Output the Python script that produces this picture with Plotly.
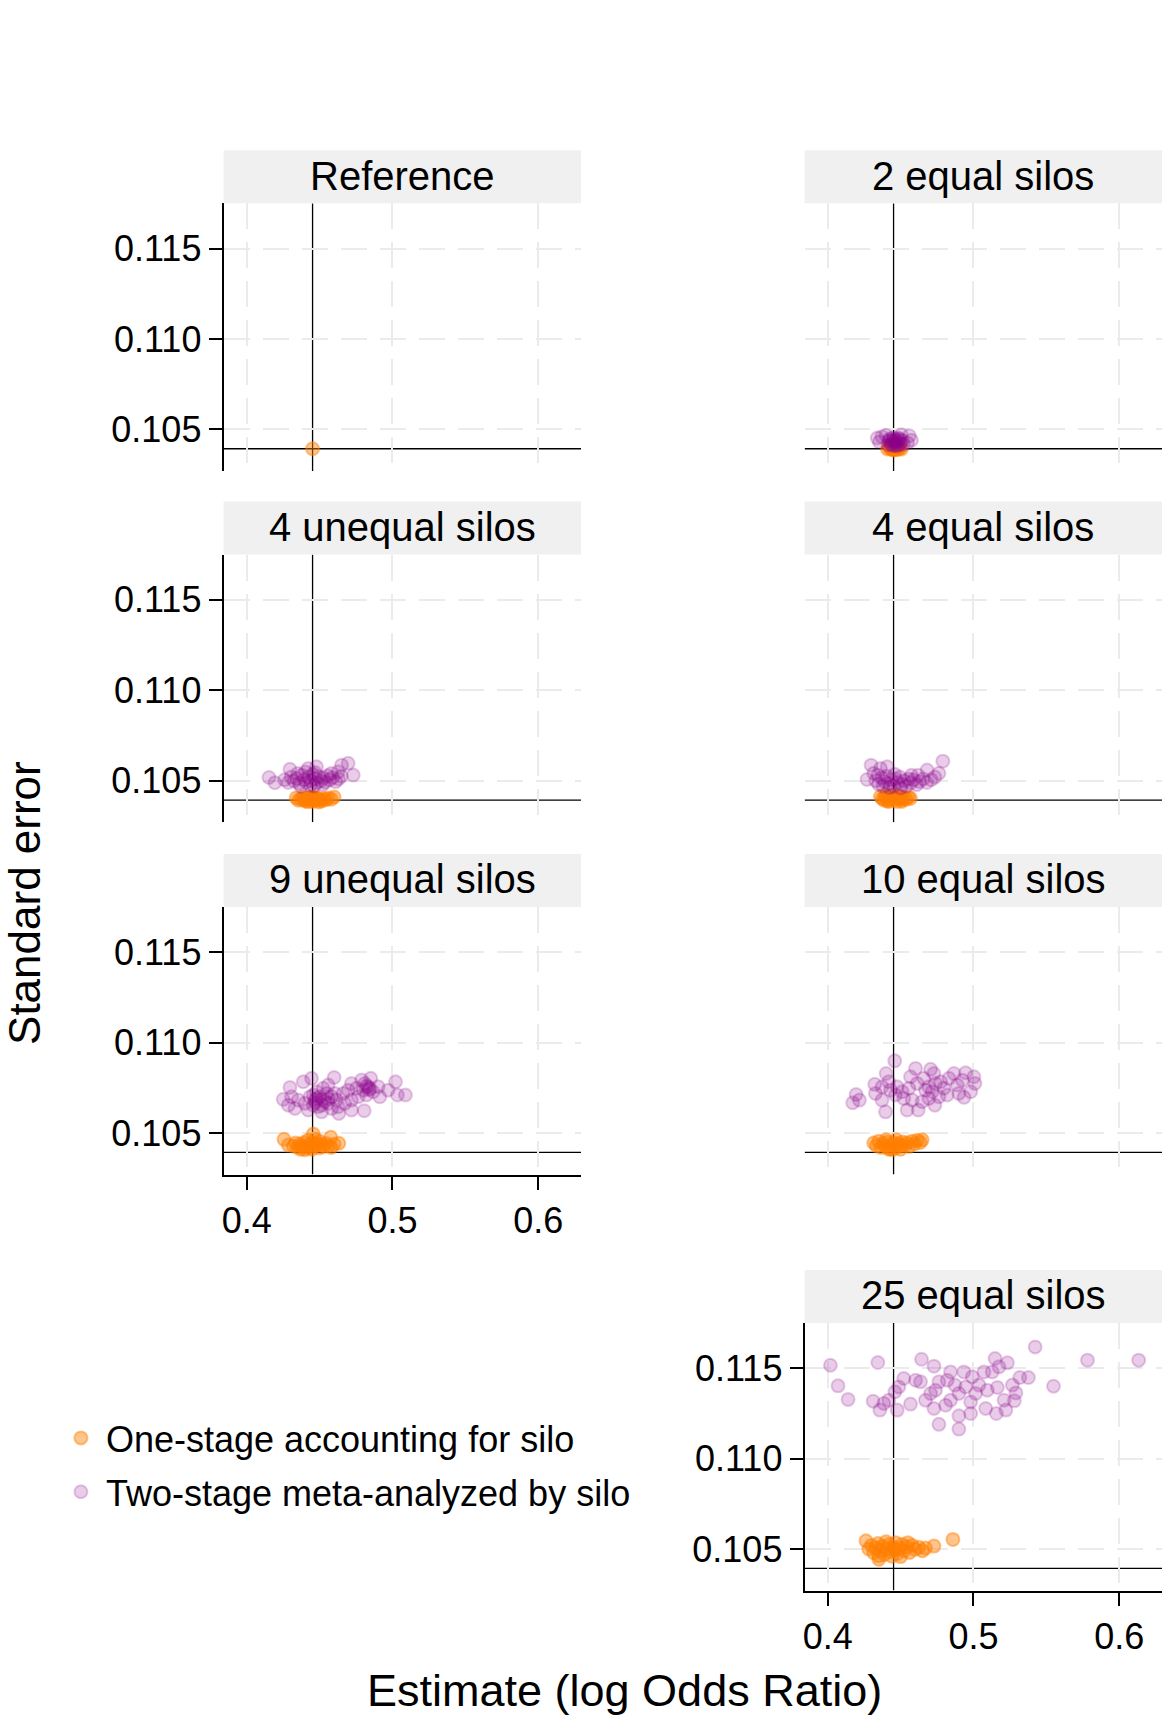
import plotly.graph_objects as go

# reference fit (single model on pooled data)
ref_est = [0.4452]
ref_se = [0.10393]

# 2 equal silos
one_est_2eq = [0.4410, 0.4425, 0.4438, 0.4445, 0.4452, 0.4460, 0.4470, 0.4482, 0.4495, 0.4505,
               0.4432, 0.4448, 0.4465, 0.4478, 0.4456]
one_se_2eq = [0.10392, 0.10398, 0.10390, 0.10402, 0.10395, 0.10388, 0.10400, 0.10393, 0.10397, 0.10391,
              0.10405, 0.10386, 0.10408, 0.10389, 0.10401]
two_est_2eq = [0.4340, 0.4355, 0.4372, 0.4560, 0.4575, 0.4548, 0.4400, 0.4505,
               0.4420, 0.4435, 0.4445, 0.4455, 0.4465, 0.4475, 0.4488, 0.4500, 0.4512, 0.4430, 0.4450,
               0.4470, 0.4482, 0.4495, 0.4458, 0.4440, 0.4478, 0.4520, 0.4415, 0.4462, 0.4490, 0.4425]
two_se_2eq = [0.10452, 0.10430, 0.10460, 0.10465, 0.10440, 0.10425, 0.10468, 0.10470,
              0.10435, 0.10420, 0.10440, 0.10428, 0.10445, 0.10432, 0.10440, 0.10425, 0.10438, 0.10450, 0.10455,
              0.10418, 0.10452, 0.10448, 0.10410, 0.10412, 0.10408, 0.10418, 0.10415, 0.10438, 0.10415, 0.10442]

# 4 unequal silos
one_est_4un = [0.4340, 0.4355, 0.4372, 0.4388, 0.4400, 0.4412, 0.4425, 0.4438, 0.4450, 0.4462, 0.4475, 0.4488,
               0.4500, 0.4515, 0.4530, 0.4545, 0.4560, 0.4580, 0.4600, 0.4445, 0.4420, 0.4470, 0.4495, 0.4395]
one_se_4un = [0.10405, 0.10392, 0.10398, 0.10410, 0.10388, 0.10400, 0.10393, 0.10405, 0.10385, 0.10398, 0.10390, 0.10402,
              0.10395, 0.10388, 0.10400, 0.10395, 0.10405, 0.10398, 0.10410, 0.10412, 0.10383, 0.10408, 0.10382, 0.10395]
two_est_4un = [0.4153, 0.4194, 0.4297, 0.4651, 0.4696, 0.4731, 0.4628, 0.4479, 0.4422,
               0.4260, 0.4285, 0.4305, 0.4325, 0.4345, 0.4360, 0.4380, 0.4395, 0.4410, 0.4425, 0.4440, 0.4455,
               0.4468, 0.4480, 0.4495, 0.4510, 0.4525, 0.4540, 0.4555, 0.4570, 0.4590, 0.4610, 0.4630, 0.4650,
               0.4435, 0.4462, 0.4402, 0.4470, 0.4520, 0.4350, 0.4580, 0.4372]
two_se_4un = [0.10518, 0.10489, 0.10563, 0.10586, 0.10596, 0.10531, 0.10549, 0.10577, 0.10568,
              0.10505, 0.10490, 0.10520, 0.10498, 0.10512, 0.10485, 0.10530, 0.10505, 0.10490, 0.10520, 0.10500, 0.10535,
              0.10510, 0.10488, 0.10522, 0.10500, 0.10515, 0.10492, 0.10528, 0.10505, 0.10518, 0.10495, 0.10510, 0.10525,
              0.10475, 0.10470, 0.10548, 0.10545, 0.10478, 0.10540, 0.10540, 0.10468]

# 4 equal silos
one_est_4eq = [0.4362, 0.4375, 0.4388, 0.4400, 0.4412, 0.4425, 0.4438, 0.4450, 0.4462, 0.4475, 0.4488,
               0.4500, 0.4512, 0.4525, 0.4540, 0.4555, 0.4568, 0.4445, 0.4395, 0.4480, 0.4418, 0.4508]
one_se_4eq = [0.10412, 0.10400, 0.10392, 0.10408, 0.10388, 0.10398, 0.10415, 0.10392, 0.10405, 0.10385, 0.10400,
              0.10410, 0.10395, 0.10405, 0.10398, 0.10410, 0.10402, 0.10420, 0.10418, 0.10415, 0.10385, 0.10385]
two_est_4eq = [0.4298, 0.4270, 0.4408, 0.4790, 0.4763, 0.4682, 0.4362, 0.4316,
               0.4330, 0.4350, 0.4370, 0.4390, 0.4405, 0.4420, 0.4435, 0.4450, 0.4465, 0.4480, 0.4495, 0.4510,
               0.4525, 0.4540, 0.4555, 0.4570, 0.4590, 0.4610, 0.4630, 0.4655, 0.4680, 0.4710, 0.4735,
               0.4460, 0.4425, 0.4500, 0.4380, 0.4575, 0.4345, 0.4620]
two_se_4eq = [0.10586, 0.10507, 0.10577, 0.10608, 0.10541, 0.10559, 0.10568, 0.10541,
              0.10500, 0.10480, 0.10515, 0.10495, 0.10525, 0.10485, 0.10505, 0.10470, 0.10510, 0.10490, 0.10520, 0.10480,
              0.10500, 0.10470, 0.10510, 0.10488, 0.10505, 0.10478, 0.10495, 0.10510, 0.10490, 0.10505, 0.10520,
              0.10535, 0.10462, 0.10460, 0.10470, 0.10530, 0.10530, 0.10530]

# 9 unequal silos
one_est_9un = [0.4256, 0.4457, 0.4577, 0.4632, 0.4286, 0.4320, 0.4335, 0.4350, 0.4365, 0.4380, 0.4395, 0.4410,
               0.4425, 0.4440, 0.4455, 0.4470, 0.4485, 0.4500, 0.4515, 0.4530, 0.4545, 0.4560, 0.4580, 0.4600,
               0.4448, 0.4400, 0.4500, 0.4470, 0.4420, 0.4370]
one_se_9un = [0.10465, 0.10494, 0.10476, 0.10443, 0.10433, 0.10428, 0.10445, 0.10420, 0.10438, 0.10425, 0.10448, 0.10418,
              0.10435, 0.10422, 0.10445, 0.10428, 0.10440, 0.10418, 0.10435, 0.10425, 0.10442, 0.10430, 0.10420, 0.10438,
              0.10410, 0.10408, 0.10455, 0.10465, 0.10460, 0.10410]
two_est_9un = [0.4251, 0.4297, 0.4388, 0.4445, 0.4600, 0.4331, 0.4422, 0.4514, 0.4632, 0.4719, 0.4806, 0.4788,
               0.4851, 0.5021, 0.5089, 0.5034, 0.4970, 0.4913, 0.4719, 0.4559,
               0.4468, 0.4502, 0.4536, 0.4582, 0.4616, 0.4457, 0.4491, 0.4548, 0.4662, 0.4696, 0.4753, 0.4799,
               0.4833, 0.4868, 0.4822, 0.4765, 0.4719, 0.4673, 0.4628, 0.4582, 0.4434, 0.4399, 0.4354, 0.4308,
               0.4286, 0.4902, 0.4525, 0.4479, 0.4514, 0.4559, 0.4605, 0.4457, 0.4811, 0.4845,
               0.4480, 0.4520, 0.4560, 0.4470, 0.4840, 0.4820]
two_se_9un = [0.10686, 0.10752, 0.10783, 0.10802, 0.10807, 0.10636, 0.10627, 0.10617, 0.10608, 0.10627, 0.10623, 0.10793,
              0.10802, 0.10783, 0.10710, 0.10710, 0.10737, 0.10700, 0.10774, 0.10765,
              0.10682, 0.10700, 0.10673, 0.10700, 0.10682, 0.10654, 0.10645, 0.10719, 0.10719, 0.10737, 0.10747, 0.10737,
              0.10756, 0.10728, 0.10710, 0.10700, 0.10682, 0.10664, 0.10645, 0.10636, 0.10700, 0.10664, 0.10682, 0.10700,
              0.10654, 0.10756, 0.10747, 0.10728, 0.10654, 0.10664, 0.10719, 0.10710, 0.10774, 0.10747,
              0.10690, 0.10688, 0.10690, 0.10668, 0.10740, 0.10760]

# 10 equal silos
one_est_10eq = [0.4316, 0.4335, 0.4350, 0.4365, 0.4380, 0.4395, 0.4410, 0.4425, 0.4440, 0.4455, 0.4470, 0.4485,
                0.4500, 0.4515, 0.4530, 0.4545, 0.4560, 0.4578, 0.4595, 0.4615, 0.4635, 0.4648,
                0.4445, 0.4420, 0.4470, 0.4400, 0.4500]
one_se_10eq = [0.10445, 0.10430, 0.10455, 0.10420, 0.10440, 0.10425, 0.10450, 0.10415, 0.10435, 0.10445, 0.10420, 0.10440,
               0.10428, 0.10450, 0.10432, 0.10445, 0.10425, 0.10455, 0.10440, 0.10460, 0.10448, 0.10462,
               0.10408, 0.10410, 0.10462, 0.10462, 0.10410]
two_est_10eq = [0.4460, 0.4401, 0.4323, 0.4195, 0.4172, 0.4218, 0.4397, 0.4545, 0.4621, 0.4735, 0.4603, 0.4706,
                0.4946, 0.5003, 0.5010, 0.4981, 0.4935, 0.4866, 0.4328, 0.4373,
                0.4431, 0.4476, 0.4511, 0.4557, 0.4614, 0.4660, 0.4694, 0.4717, 0.4740, 0.4775, 0.4797, 0.4832,
                0.4820, 0.4763, 0.4694, 0.4648, 0.4580, 0.4522, 0.4465, 0.4419, 0.4568, 0.4671, 0.4889, 0.4924,
                0.4900, 0.4373, 0.4729]
two_se_10eq = [0.10899, 0.10829, 0.10769, 0.10713, 0.10667, 0.10682, 0.10617, 0.10627, 0.10627, 0.10654, 0.10857, 0.10852,
               0.10833, 0.10811, 0.10774, 0.10728, 0.10697, 0.10829, 0.10719, 0.10682,
               0.10737, 0.10755, 0.10728, 0.10747, 0.10774, 0.10802, 0.10755, 0.10728, 0.10774, 0.10783, 0.10747, 0.10802,
               0.10710, 0.10700, 0.10691, 0.10673, 0.10682, 0.10691, 0.10710, 0.10783, 0.10811, 0.10737, 0.10765, 0.10792,
               0.10719, 0.10755, 0.10829]

# 25 equal silos
one_est_25eq = [0.4859, 0.4729, 0.4263, 0.4351,
                0.4282, 0.4300, 0.4315, 0.4330, 0.4345, 0.4360, 0.4375, 0.4390, 0.4405, 0.4420, 0.4435, 0.4450,
                0.4465, 0.4480, 0.4495, 0.4510, 0.4525, 0.4540, 0.4560, 0.4580, 0.4600, 0.4625, 0.4650, 0.4671,
                0.4440, 0.4400, 0.4500, 0.4350, 0.4550, 0.4460]
one_se_25eq = [0.10553, 0.10516, 0.10545, 0.10443,
               0.10500, 0.10520, 0.10480, 0.10505, 0.10530, 0.10490, 0.10515, 0.10470, 0.10500, 0.10525, 0.10485, 0.10510,
               0.10535, 0.10475, 0.10505, 0.10525, 0.10490, 0.10512, 0.10480, 0.10520, 0.10498, 0.10510, 0.10490, 0.10505,
               0.10460, 0.10540, 0.10458, 0.10462, 0.10535, 0.10495]
two_est_25eq = [0.4019, 0.4071, 0.4140, 0.4344, 0.4312, 0.4358, 0.4385, 0.4461, 0.4477, 0.4568, 0.4522, 0.4644,
                0.4729, 0.4763, 0.4900, 0.4900, 0.4981, 0.5148, 0.5233, 0.5423, 0.5318, 0.5377, 0.5549, 0.5782,
                0.6133, 0.5291, 0.5280, 0.5222, 0.5157, 0.5084, 0.5015, 0.5072, 0.4934, 0.4843, 0.4820, 0.4740,
                0.4809, 0.4729, 0.4671, 0.4637, 0.4900, 0.4946, 0.5038, 0.5129, 0.5164, 0.5095, 0.4992, 0.4873,
                0.4763, 0.4706, 0.4603, 0.4488, 0.4419, 0.4981, 0.5210, 0.5267, 0.5175, 0.4843]
two_se_25eq = [0.11516, 0.11402, 0.11327, 0.11531, 0.11317, 0.11268, 0.11305, 0.11369, 0.11268, 0.11301, 0.11443, 0.11549,
               0.11511, 0.11189, 0.11163, 0.11236, 0.11249, 0.11553, 0.11529, 0.11617, 0.11448, 0.11448, 0.11400, 0.11544,
               0.11544, 0.11363, 0.11319, 0.11268, 0.11249, 0.11277, 0.11360, 0.11479, 0.11479, 0.11479, 0.11433, 0.11378,
               0.11295, 0.11277, 0.11323, 0.11424, 0.11360, 0.11396, 0.11406, 0.11479, 0.11393, 0.11378, 0.11452, 0.11406,
               0.11424, 0.11360, 0.11433, 0.11396, 0.11323, 0.11313, 0.11323, 0.11406, 0.11507, 0.11323]

panel_names = ["Reference", "2 equal silos", "4 unequal silos", "4 equal silos",
               "9 unequal silos", "10 equal silos", "25 equal silos"]
one_stage = [(ref_est, ref_se), (one_est_2eq, one_se_2eq), (one_est_4un, one_se_4un), (one_est_4eq, one_se_4eq),
             (one_est_9un, one_se_9un), (one_est_10eq, one_se_10eq), (one_est_25eq, one_se_25eq)]
two_stage = [None, (two_est_2eq, two_se_2eq), (two_est_4un, two_se_4un), (two_est_4eq, two_se_4eq),
             (two_est_9un, two_se_9un), (two_est_10eq, two_se_10eq), (two_est_25eq, two_se_25eq)]

x_ticks = [0.4, 0.5, 0.6]
y_ticks = [0.105, 0.110, 0.115]

W, H = 1164, 1719
FONT = "Liberation Sans, Arial, sans-serif"
ORANGE = "255,127,0"
PURPLE = "139,0,139"

# panel layout in pixels: (row, col)
grid = [(0, 0), (0, 1), (1, 0), (1, 1), (2, 0), (2, 1), (3, 1)]
col_px = [(222, 580), (804, 1162)]
row_bottom_px = [471, 822.3, 1174.6, 1590.6]
panel_h = 267.7
strip_h = 53

fig = go.Figure()
shapes, annotations = [], []

for i, (name, (r, c)) in enumerate(zip(panel_names, grid)):
    n = i + 1
    xa, ya = ("x" if n == 1 else f"x{n}"), ("y" if n == 1 else f"y{n}")
    x0, x1 = col_px[c]
    yb = row_bottom_px[r]
    yt = yb - panel_h

    est, se = one_stage[i]
    fig.add_trace(go.Scatter(
        x=est, y=se, mode="markers", xaxis=xa, yaxis=ya,
        name="One-stage accounting for silo", legendgroup="one", showlegend=(n == 1), legendrank=1,
        marker=dict(size=13, color=f"rgba({ORANGE},0.45)", line=dict(width=2, color=f"rgba({ORANGE},0.45)")),
    ))
    if two_stage[i] is not None:
        est, se = two_stage[i]
        fig.add_trace(go.Scatter(
            x=est, y=se, mode="markers", xaxis=xa, yaxis=ya,
            name="Two-stage meta-analyzed by silo", legendgroup="two", showlegend=(n == 2), legendrank=2,
            marker=dict(size=13, color=f"rgba({PURPLE},0.2)", line=dict(width=2, color=f"rgba({PURPLE},0.2)")),
        ))

    show_y = (c == 0) or n == 7
    show_x = n in (5, 7)
    common = dict(showgrid=True, gridcolor="#EBEBEB", gridwidth=2, griddash="26px,13px", zeroline=False,
                  linecolor="black", linewidth=2, tickcolor="black", tickwidth=2, ticklen=13,
                  tickfont=dict(size=36, color="black", family=FONT))
    fig.layout[("xaxis" if n == 1 else f"xaxis{n}")] = dict(
        domain=[x0 / W, x1 / W], anchor=ya, range=[0.3842, 0.6293], tickvals=x_ticks,
        showline=show_x, ticks="outside" if show_x else "", showticklabels=show_x, **common)
    fig.layout[("yaxis" if n == 1 else f"yaxis{n}")] = dict(
        domain=[1 - yb / H, 1 - yt / H], anchor=xa, range=[0.1027, 0.1175], tickvals=y_ticks,
        tickformat=".3f", showline=show_y, ticks="outside" if show_y else "", showticklabels=show_y, **common)

    # reference lines at the pooled estimate
    shapes.append(dict(type="line", xref=xa, x0=ref_est[0], x1=ref_est[0], yref=ya, y0=0.1027, y1=0.1175,
                       line=dict(color="black", width=1.3), layer="below"))
    shapes.append(dict(type="line", yref=ya, y0=ref_se[0], y1=ref_se[0], xref=xa, x0=0.3842, x1=0.6293,
                       line=dict(color="black", width=1.3), layer="below"))
    # facet strip
    shapes.append(dict(type="rect", xref="paper", yref="paper", x0=x0 / W, x1=x1 / W,
                       y0=1 - yt / H, y1=1 - (yt - strip_h) / H, fillcolor="#F0F0F0", line=dict(width=0)))
    annotations.append(dict(text=name, xref="paper", yref="paper", x=(x0 + x1) / 2 / W,
                            y=1 - (yt - strip_h / 2 - 1) / H, showarrow=False, xanchor="center", yanchor="middle",
                            font=dict(size=40, color="black", family=FONT)))

annotations.append(dict(text="Estimate (log Odds Ratio)", xref="paper", yref="paper", x=624 / W, y=1 - 1690 / H,
                        showarrow=False, xanchor="center", yanchor="middle",
                        font=dict(size=45, color="black", family=FONT)))
annotations.append(dict(text="Standard error", xref="paper", yref="paper", x=22 / W, y=1 - 903 / H,
                        showarrow=False, xanchor="center", yanchor="middle", textangle=-90, borderpad=0,
                        font=dict(size=44, color="black", family=FONT)))

fig.update_layout(
    width=W, height=H, margin=dict(l=0, r=0, t=0, b=0),
    paper_bgcolor="white", plot_bgcolor="white",
    shapes=shapes, annotations=annotations,
    legend=dict(x=54 / W, y=1 - 1408 / H, xanchor="left", yanchor="top", tracegroupgap=4, itemwidth=40,
                font=dict(size=36, color="black", family=FONT), bgcolor="rgba(0,0,0,0)"),
)

fig.write_html("out.html", config={"displayModeBar": False},
               post_script="document.body.style.margin='0px';")
